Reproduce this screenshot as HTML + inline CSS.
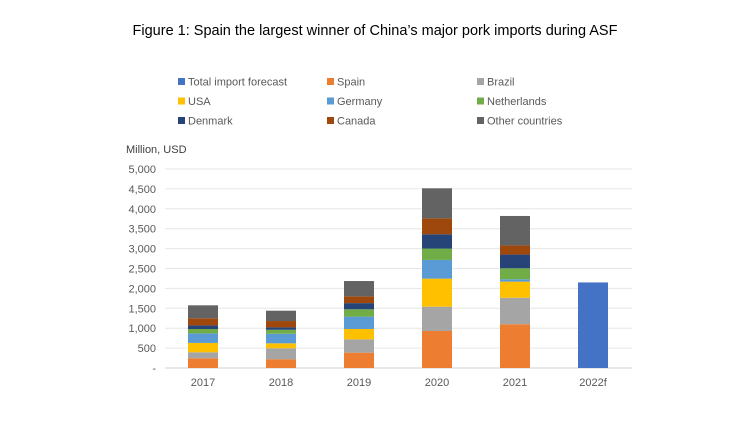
<!DOCTYPE html>
<html><head><meta charset="utf-8"><style>
body{margin:0;background:#fff;}
svg{font-family:"Liberation Sans",Calibri,sans-serif;}
</style></head><body>
<svg id="chart" width="750" height="422" viewBox="0 0 750 422" xmlns="http://www.w3.org/2000/svg">
<text x="375" y="35" text-anchor="middle" font-size="14.5" fill="#000">Figure 1: Spain the largest winner of China’s major pork imports during ASF</text>
<text x="126" y="153" font-size="11" fill="#404040">Million, USD</text>
<g id="grid"></g><g id="bars"></g><g id="legend"></g>
</svg>
<script>
const categories=["2017","2018","2019","2020","2021","2022f"];
const seriesNames=["Total import forecast","Spain","Brazil","USA","Germany","Netherlands","Denmark","Canada","Other countries"];
const colors=["#4472C4","#ED7D31","#A5A5A5","#FFC000","#5B9BD5","#70AD47","#264478","#9E480E","#636363"];
const forecast=[0,0,0,0,0,2150];
const spain=[245,220,385,930,1100,0];
const brazil=[150,275,335,610,665,0];
const usa=[235,125,260,705,405,0];
const germany=[240,240,310,470,60,0];
const netherlands=[110,100,185,285,275,0];
const denmark=[90,60,155,360,345,0];
const canada=[180,160,170,400,230,0];
const other=[325,260,385,755,740,0];
const ticks=[0,500,1000,1500,2000,2500,3000,3500,4000,4500,5000];
const tickLabels=["-","500","1,000","1,500","2,000","2,500","3,000","3,500","4,000","4,500","5,000"];
const NS="http://www.w3.org/2000/svg";
const y=v=>368-v*0.0398;
const x=i=>203+i*78;
const g=document.getElementById('grid'),b=document.getElementById('bars'),lg=document.getElementById('legend');
function mk(t,a,p){const e=document.createElementNS(NS,t);for(const k in a)e.setAttribute(k,a[k]);p.appendChild(e);return e;}
ticks.forEach((t,i)=>{
 const l=mk('line',{x1:165,x2:632,y1:y(t),y2:y(t),stroke:i==0?'#d0d0d0':'#e6e6e6','stroke-width':1},g);
 
 
 const tx=mk('text',{x:156,y:y(t)+4,'text-anchor':'end','font-size':11,fill:'#595959'},g);
 tx.textContent=tickLabels[i];
 
 
});
const series=[forecast,spain,brazil,usa,germany,netherlands,denmark,canada,other];
categories.forEach((c,i)=>{
 let acc=0;
 series.forEach((s,j)=>{
  if(!s[i])return;
  const r=mk('rect',{x:x(i)-15,width:30,y:y(acc+s[i]),height:s[i]*0.0398,fill:colors[j]},b);
  
  
  acc+=s[i];
 });
 const t=mk('text',{x:x(i),y:386,'text-anchor':'middle','font-size':11,fill:'#595959'},b);
 t.textContent=c;
 
 
});
const lx=[178,327,477];
seriesNames.forEach((n,k)=>{
 const cx=lx[k%3],cy=78+Math.floor(k/3)*19.5;
 const r=mk('rect',{x:cx,y:cy,width:7,height:7,fill:colors[k]},lg);
 
 
 const t=mk('text',{x:cx+10,y:cy+7.5,'font-size':11,fill:'#595959'},lg);
 t.textContent=n;
 
 
});
</script>
</body></html>
